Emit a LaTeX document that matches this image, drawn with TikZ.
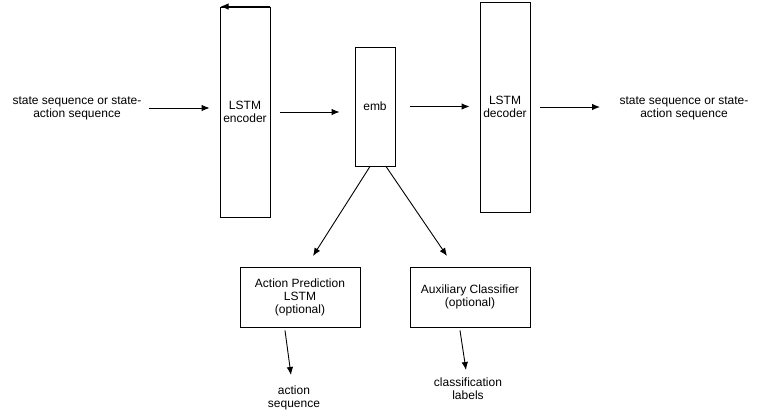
\documentclass[tikz,border=0pt]{standalone}
\usepackage{fontspec}
\setmainfont{Liberation Sans}
\usepackage{tikz}
\usetikzlibrary{arrows.meta}

\begin{document}
\begin{tikzpicture}[x=1pt, y=-1pt, >={Latex[length=8pt, width=6.5pt]}, line width=0.9pt,
        font=\fontsize{12}{13}\selectfont,
        box/.style = {draw, rectangle, inner sep=0pt, align=center},
        lbl/.style = {align=center, inner sep=0pt}]
        \useasboundingbox (0,0) rectangle (761,412);

        \node[box, minimum width=50pt, minimum height=210pt] (enc) at (245,112) {LSTM\\encoder};
        \node[box, minimum width=40pt, minimum height=119pt] (emb) at (375,106.5) {emb};
        \node[box, minimum width=50pt, minimum height=210pt] (dec) at (505,107) {LSTM\\decoder};
        \node[box, minimum width=120pt, minimum height=60pt] (act) at (300,297) {Action Prediction\\LSTM\\(optional)};
        \node[box, minimum width=120pt, minimum height=60pt] (aux) at (470,297) {Auxiliary Classifier\\(optional)};

        \node[lbl] (in) at (77,108) {state sequence or state-\\action sequence};
        \node[lbl] (out) at (684,108) {state sequence or state-\\action sequence};
        \node[lbl] (actseq) at (294,398) {action\\sequence};
        \node[lbl] (cls) at (468,388.5) {classification\\labels};

        \coordinate (tipA) at (313,256);
        \coordinate (tipB) at (447,256);
        \coordinate (tipC) at (291,375);
        \coordinate (tipD) at (466,370);
        \coordinate (tipE) at (600,107);

        \draw[->] (enc.north east) -- ([xshift=1pt]enc.north west);
        \draw[->] ([xshift=7pt]in.east) -- ([xshift=-10pt]in.east -| enc.west);
        \draw[->] ([xshift=10pt]enc.east) -- ([xshift=-15pt]enc.east -| emb.west);
        \draw[->] ([xshift=15pt]emb.east) -- ([xshift=-10pt]emb.east -| dec.west);
        \draw[->] ([xshift=10pt]dec.east) -- (tipE);
        \draw[->] ([xshift=-5pt]emb.south) -- (tipA);
        \draw[->] ([xshift=11pt]emb.south) -- (tipB);
        \draw[->] ([xshift=-15pt, yshift=-3pt]act.south) -- (tipC);
        \draw[->] ([xshift=-10pt, yshift=-3pt]aux.south) -- (tipD);
\end{tikzpicture}
\end{document}
